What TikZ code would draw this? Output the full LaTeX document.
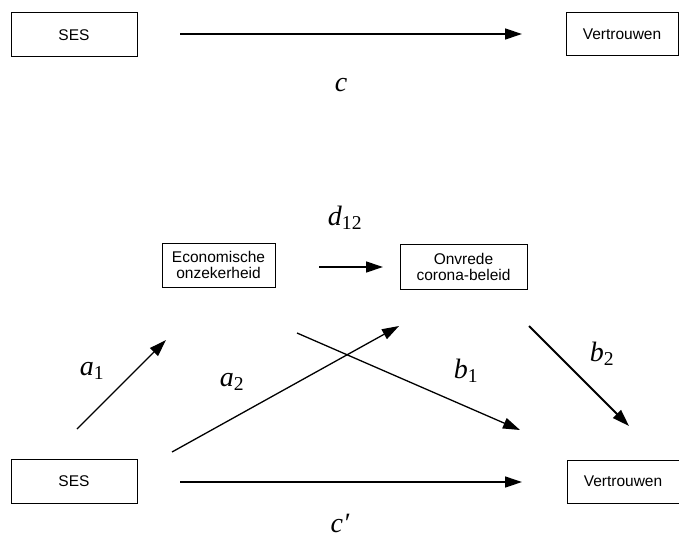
\documentclass[tikz,border=0pt]{standalone}
\usepackage{fontspec}
\setmainfont{Liberation Sans}
\newfontfamily\lblfont{Liberation Serif}
\usetikzlibrary{arrows.meta}

\begin{document}
\begin{tikzpicture}[x=1pt, y=-1pt,
    varbox/.style={draw, line width=1pt, inner sep=0pt, align=center,
        font=\fontsize{15.5}{16}\selectfont},
    pathto/.style={line width=1.3pt, -{Triangle[length=17pt, width=11pt]}},
    coef/.style={font=\fontsize{28}{30}\selectfont\lblfont\itshape}]
% Set the canvas to the size of the figure
\useasboundingbox (0, 0) rectangle (679, 540);

% Total effect
\node[varbox, minimum width=126, minimum height=44] (sesA) at (74, 35) {SES};
\node[varbox, minimum width=112, minimum height=43] (trustA) at (622, 34.5) {Vertrouwen};
\coordinate (cA) at (180, 34);
\coordinate (cB) at (522, 34);
\draw[pathto] (cA) -- (cB);
\node[coef] (lblc) at (341, 85) {c};

% Mediators
\node[varbox, minimum width=113, minimum height=44] (econ) at (218.5, 265) {Economische\\onzekerheid};
\node[varbox, minimum width=127, minimum height=45] (onvr) at (463.5, 266.5) {Onvrede\\corona-beleid};
\coordinate (dA) at (319, 267);
\coordinate (dB) at (383, 267);
\draw[pathto] (dA) -- (dB);
\node[coef] (lbld) at (345, 218) {d\textsubscript{\upshape 12}};

% Direct effect
\node[varbox, minimum width=126, minimum height=44] (sesB) at (74, 481) {SES};
\node[varbox, minimum width=112, minimum height=43] (trustB) at (623, 481.5) {Vertrouwen};
\coordinate (cpA) at (180, 482);
\coordinate (cpB) at (522, 482);
\draw[pathto] (cpA) -- (cpB);
\node[coef] (lblcp) at (340, 523) {c′};

% Indirect paths
\coordinate (aoneA) at (77, 429);
\coordinate (aoneB) at (166, 340);
\draw[pathto] (aoneA) -- (aoneB);
\node[coef] (lblaone) at (92, 371) {a\textsubscript{\upshape 1}};
\coordinate (atwoA) at (172, 452);
\coordinate (atwoB) at (399, 326);
\draw[pathto] (atwoA) -- (atwoB);
\node[coef] (lblatwo) at (232, 382) {a\textsubscript{\upshape 2}};
\coordinate (boneA) at (297, 333);
\coordinate (boneB) at (520, 430);
\draw[pathto] (boneA) -- (boneB);
\node[coef] (lblbone) at (466, 371) {b\textsubscript{\upshape 1}};
\coordinate (btwoA) at (529, 326);
\coordinate (btwoB) at (629, 426);
\draw[pathto, line width=2pt] (btwoA) -- (btwoB);
\node[coef] (lblbtwo) at (602, 354) {b\textsubscript{\upshape 2}};
\end{tikzpicture}
\end{document}
